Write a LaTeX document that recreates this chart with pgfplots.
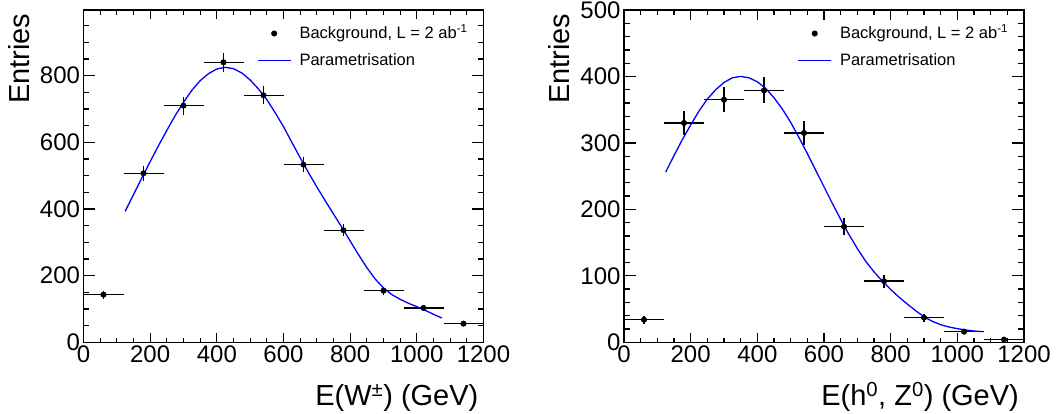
\documentclass[border=0pt]{standalone}
\usepackage{fontspec}
\setmainfont{Liberation Sans}
\usepackage{pgfplots}
\usepackage{pgfplotstable}
\pgfplotsset{compat=1.18}

% x = bin centre, ex = half bin width, ey = sqrt(N)
\pgfplotstableread{
x    y    ex  ey
60   143  60  12.0
180  507  60  22.5
300  710  60  26.6
420  840  60  29.0
540  741  60  27.2
660  533  60  23.1
780  336  60  18.3
900  155  60  12.4
1020 103  60  10.1
1140 56   60  7.5
}\wdata

\pgfplotstableread{
x    y    ex  ey
60   34   60  5.8
180  330  60  18.2
300  365  60  19.1
420  379  60  19.5
540  315  60  17.7
660  174  60  13.2
780  92   60  9.6
900  37   60  6.1
1020 16   60  4.0
1140 4    60  2.0
}\hzdata

\pgfplotsset{
  rootframe/.style={
    scale only axis,
    width=400bp, height=332.3bp,
    xmin=0, xmax=1200,
    xtick={0,200,...,1200},
    minor xtick={0,50,...,1200},
    tick align=inside,
    major tick length=12bp,
    minor tick length=6bp,
    xtick style={/pgfplots/major tick length=9.5bp, /pgfplots/minor tick length=4.75bp},
    tick style={black, line width=1.3bp},
    axis line style={black, line width=1.3bp},
    tick label style={font=\fontsize{24bp}{28bp}\selectfont},
    /pgf/number format/assume math mode=true,
    /pgf/number format/1000 sep={},
    label style={font=\fontsize{29bp}{34bp}\selectfont},
    ylabel={Entries},
    ylabel style={at={(rel axis cs:-0.1355,1)}, anchor=base east},
    xlabel style={at={(rel axis cs:0.996,-0.1902)}, anchor=base east},
    legend cell align=left,
    legend style={
      draw=none, fill=none, inner sep=0pt,
      at={(rel axis cs:0.433,0.954)}, anchor=north west,
      font=\fontsize{16.5bp}{19bp}\selectfont,
      nodes={inner sep=0pt, text height=13bp, text depth=3bp},
      row sep=10.7bp, column sep=8bp
    },
  },
  dotlegend/.style={
    legend image code/.code={
      \path[draw=none] (0bp,-1bp) rectangle (33.3bp,1bp);
      \draw[black, only marks, mark=*, mark size=2.8bp] plot coordinates {(16.65bp,0bp)};
    }
  },
  linelegend/.style={
    legend image code/.code={
      \path[draw=none] (0bp,-1bp) rectangle (33.3bp,1bp);
      \draw[blue, line width=1.3bp] (0bp,0bp) -- (33.3bp,0bp);
    }
  },
  datapts/.style={
    black, only marks, mark=*, mark size=2.8bp,
    error bars/x dir=both, error bars/x explicit,
    error bars/y dir=both, error bars/y explicit,
    error bars/error mark=none,
    error bars/error bar style={black, line width=1.4bp}
  },
  fitline/.style={blue, line width=1.3bp, mark=none}
}

\begin{document}
\begin{tikzpicture}
\useasboundingbox (0,0) rectangle (1059bp,414bp);

\begin{axis}[
  rootframe,
  at={(83.5bp,71.7bp)}, anchor=south west,
  ymin=0, ymax=997,
  ytick={0,200,...,800},
  minor ytick={0,50,...,950},
  xlabel={E(W\textsuperscript{±}) (GeV)}
]
\addlegendimage{dotlegend}
\addlegendentry{Background, L = 2 ab\textsuperscript{-1}}
\addlegendimage{linelegend}
\addlegendentry{Parametrisation}
\addplot[forget plot, datapts] table[x=x, y=y, x error=ex, y error=ey] {\wdata};
\addplot[forget plot, fitline] coordinates {
(125,393) (150,443) (175,493) (200,542) (225,590) (250,636) (275,680) (300,720)
(325,756) (350,785) (375,806) (400,820) (425,825) (450,821) (475,808) (500,787)
(525,760) (550,728) (575,689) (600,647) (625,600) (650,554) (675,509) (700,466)
(725,425) (750,385) (775,345) (800,304) (825,263) (850,224) (875,190) (900,163)
(925,143) (950,129) (975,117) (1000,107) (1025,96) (1050,84) (1075,73)
};
\end{axis}

\begin{axis}[
  rootframe,
  at={(624bp,71.7bp)}, anchor=south west,
  ymin=0, ymax=500,
  ytick={0,100,...,500},
  minor ytick={0,20,...,500},
  xlabel={E(h\textsuperscript{0}, Z\textsuperscript{0}) (GeV)}
]
\addlegendimage{dotlegend}
\addlegendentry{Background, L = 2 ab\textsuperscript{-1}}
\addlegendimage{linelegend}
\addlegendentry{Parametrisation}
\addplot[forget plot, datapts] table[x=x, y=y, x error=ex, y error=ey] {\hzdata};
\addplot[forget plot, fitline] coordinates {
(125,256) (150,281) (175,305) (200,327) (225,348) (250,366) (275,380) (300,391)
(325,398) (350,400) (375,398) (400,392) (425,382) (450,368) (475,351) (500,331)
(525,308) (550,284) (575,259) (600,234) (625,209) (650,185) (675,162) (700,141)
(725,122) (750,106) (775,92) (800,79.5) (825,68) (850,57.5) (875,47.5) (900,38.5)
(925,31.5) (950,26.5) (975,23) (1000,20.5) (1025,18.5) (1050,17) (1075,16)
};
\end{axis}
\end{tikzpicture}
\end{document}
